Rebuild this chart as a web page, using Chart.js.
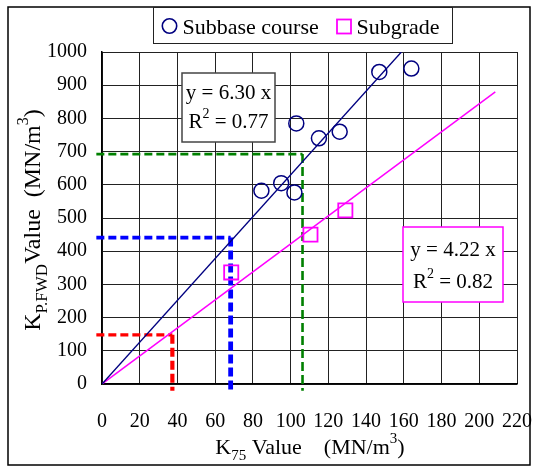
<!DOCTYPE html>
<html>
<head>
<meta charset="utf-8">
<script src="https://cdn.jsdelivr.net/npm/chart.js@4/dist/chart.umd.min.js"></script>
<style>
  html, body { margin: 0; padding: 0; background: #fff; }
  #wrap { position: relative; width: 533px; height: 468px; }
</style>
</head>
<body>
<div id="wrap"><canvas id="c" width="533" height="468"></canvas></div>
<script>
// K75 (plate bearing) vs K_P.FWD measurements
const subbaseK75  = [84.5, 95, 102, 103, 115, 126, 147, 164];
const subbaseKfwd = [582, 605, 577, 785, 740, 760, 940, 950];
const subgradeK75  = [68.5, 110.5, 129];
const subgradeKfwd = [336, 450, 523];

// Regression through origin
const subbaseSlope = 6.30, subbaseR2 = 0.77;
const subgradeSlope = 4.22, subgradeR2 = 0.82;
const subbaseFitRange = [0, 158.7];
const subgradeFitRange = [0, 208.5];

// Read-off guide lines (K75, K_P.FWD)
const guideK75  = [37.3, 68.2, 106.3];
const guideKfwd = [148, 441, 692.5];
const guideColors = ['#ff0000', '#0000ff', '#008000'];

const seriesNames = ['Subbase course', 'Subgrade'];
const xTicks = [0, 20, 40, 60, 80, 100, 120, 140, 160, 180, 200, 220];
const yTicks = [0, 100, 200, 300, 400, 500, 600, 700, 800, 900, 1000];

const SERIF = "'Liberation Serif', 'Times New Roman', serif";
const NAVY = '#000080', MAGENTA = '#ff00ff';
Chart.defaults.font.family = SERIF;
Chart.defaults.color = '#000';

const toPts = (xs, ys) => xs.map((x, i) => ({ x, y: ys[i] }));
const fitPts = (range, slope) => range.map(x => ({ x, y: slope * x }));

const guideSets = [];
guideK75.forEach((k, i) => {
  const hw = [3.2, 3.6, 2.6][i], vw = [4.2, 4.8, 2.6][i];
  guideSets.push({
    type: 'line', data: [{ x: -3, y: guideKfwd[i] }, { x: k, y: guideKfwd[i] }],
    borderColor: guideColors[i], borderWidth: hw, borderDash: [8, 4],
    pointRadius: 0, clip: false, order: 5
  });
  guideSets.push({
    type: 'line', data: [{ x: k, y: guideKfwd[i] }, { x: k, y: -20 }],
    borderColor: guideColors[i], borderWidth: vw, borderDash: [9, 4],
    pointRadius: 0, clip: false, order: 5
  });
});

function drawRich(ctx, parts, cx, baseY, size) {
  const fonts = { n: size + 'px ' + SERIF, sub: Math.round(size * 0.7) + 'px ' + SERIF, sup: Math.round(size * 0.66) + 'px ' + SERIF };
  const offs = { n: 0, sub: size * 0.28, sup: -size * 0.48 };
  let total = 0;
  parts.forEach(p => { ctx.font = fonts[p.s]; p.w = ctx.measureText(p.t).width; total += p.w; });
  let x = cx - total / 2;
  ctx.textAlign = 'left';
  ctx.textBaseline = 'alphabetic';
  parts.forEach(p => { ctx.font = fonts[p.s]; ctx.fillText(p.t, x, baseY + offs[p.s]); x += p.w; });
}

const xTitle = [{ t: 'K', s: 'n' }, { t: '75', s: 'sub' }, { t: ' Value    (MN/m', s: 'n' }, { t: '3', s: 'sup' }, { t: ')', s: 'n' }];
const yTitle = [{ t: 'K', s: 'n' }, { t: 'P.FWD', s: 'sub' }, { t: 'Value  (MN/m', s: 'n' }, { t: '3', s: 'sup' }, { t: ')', s: 'n' }];

function eqBox(ctx, box, slope, r2, borderColor) {
  ctx.save();
  ctx.fillStyle = '#fff';
  ctx.fillRect(box.x, box.y, box.w, box.h);
  ctx.strokeStyle = borderColor;
  ctx.lineWidth = 1.5;
  ctx.strokeRect(box.x, box.y, box.w, box.h);
  ctx.fillStyle = '#000';
  const cx = box.x + box.w / 2;
  ctx.font = '21px ' + SERIF;
  ctx.textAlign = 'center';
  ctx.textBaseline = 'alphabetic';
  ctx.fillText('y = ' + slope.toFixed(2) + ' x', cx, box.y + box.l1);
  drawRich(ctx, [{ t: 'R', s: 'n' }, { t: '2', s: 'sup' }, { t: ' = ' + r2.toFixed(2), s: 'n' }], cx, box.y + box.l2, 21);
  ctx.restore();
}

const decor = {
  id: 'decor',
  afterDatasetsDraw(chart) {
    const ctx = chart.ctx;
    eqBox(ctx, { x: 182, y: 73, w: 93, h: 69, l1: 26, l2: 55 }, subbaseSlope, subbaseR2, '#444');
    eqBox(ctx, { x: 403, y: 227, w: 100, h: 75, l1: 29, l2: 61 }, subgradeSlope, subgradeR2, MAGENTA);
  },
  afterDraw(chart) {
    const ctx = chart.ctx;
    ctx.save();
    // outer frame
    ctx.strokeStyle = '#000';
    ctx.lineWidth = 1.5;
    ctx.strokeRect(8, 7, 522, 458);
    // legend
    ctx.lineWidth = 1;
    ctx.fillStyle = '#fff';
    ctx.fillRect(153.5, 7.5, 299, 36);
    ctx.strokeStyle = '#222';
    ctx.strokeRect(153.5, 7.5, 299, 36);
    ctx.lineWidth = 1.6;
    ctx.strokeStyle = NAVY;
    ctx.beginPath(); ctx.arc(169.5, 26, 7.2, 0, Math.PI * 2); ctx.stroke();
    ctx.strokeStyle = MAGENTA;
    ctx.lineWidth = 1.8;
    ctx.strokeRect(337, 19.5, 14, 14);
    ctx.fillStyle = '#000';
    ctx.font = '22px ' + SERIF;
    ctx.textAlign = 'left';
    ctx.textBaseline = 'alphabetic';
    ctx.fillText(chart.data.datasets[0].label, 182.5, 33.5);
    ctx.fillText(chart.data.datasets[1].label, 356.5, 33.5);
    // axis titles
    drawRich(ctx, xTitle, 310, 454, 22);
    ctx.translate(40, 220);
    ctx.rotate(-Math.PI / 2);
    drawRich(ctx, yTitle, 0, 0, 24);
    ctx.restore();
  }
};

new Chart(document.getElementById('c'), {
  type: 'scatter',
  data: {
    datasets: [
      { label: seriesNames[0], data: toPts(subbaseK75, subbaseKfwd), showLine: false,
        pointStyle: 'circle', pointRadius: 7.5, pointBorderWidth: 1.5,
        borderColor: NAVY, backgroundColor: 'rgba(0,0,0,0)', order: 1 },
      { label: seriesNames[1], data: toPts(subgradeK75, subgradeKfwd), showLine: false,
        pointStyle: 'rect', pointRadius: 10, pointBorderWidth: 1.8,
        borderColor: MAGENTA, backgroundColor: 'rgba(0,0,0,0)', order: 1 },
      { type: 'line', data: fitPts(subbaseFitRange, subbaseSlope), borderColor: NAVY,
        borderWidth: 1.4, pointRadius: 0, order: 3 },
      { type: 'line', data: fitPts(subgradeFitRange, subgradeSlope), borderColor: MAGENTA,
        borderWidth: 1.5, pointRadius: 0, order: 3 },
      ...guideSets
    ]
  },
  options: {
    responsive: false,
    animation: false,
    events: [],
    layout: { padding: { left: 0, right: 16, top: 52, bottom: 0 } },
    plugins: { legend: { display: false }, tooltip: { enabled: false } },
    scales: {
      x: {
        type: 'linear', min: 0, max: 220,
        afterBuildTicks: s => { s.ticks = xTicks.map(v => ({ value: v })); },
        afterFit: s => { s.height = 84; },
        grid: { color: '#222', lineWidth: 1, drawTicks: true, tickLength: 26, tickColor: 'rgba(0,0,0,0)' },
        border: { color: '#000', width: 1.5 },
        ticks: { color: '#000', font: { family: SERIF, size: 20 }, padding: 0, maxRotation: 0, autoSkip: false,
                 callback: v => String(v) }
      },
      y: {
        type: 'linear', min: 0, max: 1000,
        afterBuildTicks: s => { s.ticks = yTicks.map(v => ({ value: v })); },
        afterFit: s => { s.width = 102; },
        grid: { color: '#222', lineWidth: 1, drawTicks: false },
        border: { color: '#000', width: 1.5 },
        ticks: { color: '#000', font: { family: SERIF, size: 20 }, padding: 15, autoSkip: false,
                 callback: v => String(v) }
      }
    }
  },
  plugins: [decor]
});
</script>
</body>
</html>
